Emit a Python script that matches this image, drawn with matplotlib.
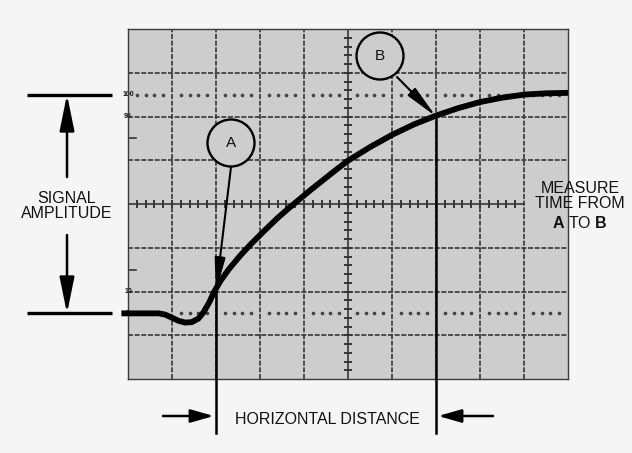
import numpy as np
import matplotlib
matplotlib.use("Agg")
import matplotlib.pyplot as plt
from matplotlib.patches import Ellipse, FancyArrowPatch

plt.rcParams['font.family'] = ['Liberation Sans', 'DejaVu Sans']
plt.rcParams['mathtext.fontset'] = 'custom'
plt.rcParams['mathtext.rm'] = 'Liberation Sans'
plt.rcParams['mathtext.bf'] = 'Liberation Sans:bold'

# ---- data (graticule divisions) ----
curve_x = [-0.15, 0.0, 0.5, 0.7, 0.85, 1.0, 1.15, 1.3, 1.45, 1.6, 1.72, 1.85, 1.95, 2.1, 2.3,
           2.55, 2.8, 3.1, 3.4, 3.65, 3.9, 4.15, 4.4, 4.7, 5.0, 5.5, 6.0, 6.5, 7.0, 7.5,
           8.0, 8.5, 9.0, 9.5, 10.0]
curve_y = [1.5, 1.5, 1.5, 1.5, 1.47, 1.4, 1.33, 1.29, 1.3, 1.38, 1.53, 1.76, 1.98, 2.24, 2.52,
           2.82, 3.09, 3.39, 3.68, 3.9, 4.11, 4.32, 4.52, 4.76, 4.99, 5.3, 5.58, 5.82, 6.02, 6.19,
           6.33, 6.43, 6.50, 6.53, 6.54]
level_labels = ["100", "90", "10", "0"]
level_values = [6.5, 6.0, 2.0, 1.5]
point_A = (2.0, 2.0)
point_B = (7.0, 6.0)
n_xdiv, n_ydiv = 10, 8

W, H = 632, 453
fig = plt.figure(figsize=(W / 100, H / 100), dpi=100, facecolor='#f5f5f5')
left_px, right_px, top_px, bot_px = 128, 568, 29, 379
ax = fig.add_axes([left_px / W, (H - bot_px) / H, (right_px - left_px) / W, (bot_px - top_px) / H])
ax.set_xlim(0, n_xdiv)
ax.set_ylim(0, n_ydiv)
ax.set_facecolor('#cdcdcd')
ax.set_xticks([]); ax.set_yticks([])
for s in ax.spines.values():
    s.set_color('#3a3a3a'); s.set_linewidth(1.0)

gcol = '#363636'
# grid lines
for i in range(1, n_xdiv):
    if i == 5:
        continue
    ax.plot([i, i], [0, n_ydiv], color=gcol, lw=1.2, ls=(0, (3, 1)), zorder=1)
for j in range(1, n_ydiv):
    if j == 4:
        continue
    ax.plot([0, n_xdiv], [j, j], color=gcol, lw=1.2, ls=(0, (3, 1)), zorder=1)
# centre lines with minor ticks
ax.plot([5, 5], [0, n_ydiv], color=gcol, lw=1.2, zorder=1)
ax.plot([0, 9], [4, 4], color=gcol, lw=1.2, zorder=1)
sub = np.arange(0.2, n_ydiv, 0.2)
ax.plot(np.full_like(sub, 5), sub, ls='none', marker='_', ms=6, mew=1.4, color=gcol, zorder=1)
subx = np.arange(0.2, 9.0, 0.2)
ax.plot(subx, np.full_like(subx, 4), ls='none', marker='|', ms=6, mew=1.4, color=gcol, zorder=1)

# dotted 0% and 100% lines
dots = np.array([c + f for c in range(n_xdiv) for f in (0.2, 0.4, 0.6, 0.8)])
for lv in (level_values[0], level_values[3]):
    ax.plot(dots, np.full_like(dots, lv), ls='none', marker='o', ms=1.6, color='#444444', zorder=1)

# left-edge level marks
for lab, lv in zip(level_labels, level_values):
    ax.text(0.0, lv, lab, fontsize=5, fontweight='bold', ha='center', va='center', color='#111',
            clip_on=False, zorder=2)
for lv in (5.5, 2.5):
    ax.plot([0, 0.18], [lv, lv], color=gcol, lw=1.2, zorder=1)

# waveform
ax.plot(curve_x, curve_y, color='black', lw=4.2, solid_capstyle='butt', solid_joinstyle='round',
        clip_on=False, zorder=4)

def px2d(px, py):
    return ((px - left_px) / 44.0, (bot_px - py) / 43.75)

# cursor lines
yb = px2d(0, 433)[1]
for (cx, cy) in (point_A, point_B):
    ax.plot([cx, cx], [cy, yb], color='black', lw=1.8, clip_on=False, zorder=3)

def arrow(p0, p1, hl=20, hw=4, lw=1.8):
    a = FancyArrowPatch(p0, p1, arrowstyle=f'-|>,head_length={hl},head_width={hw}',
                        mutation_scale=1, color='black', lw=lw, clip_on=False,
                        shrinkA=0, shrinkB=0, zorder=5)
    ax.add_patch(a)

# circles A and B
for (label, cpx, cpy, tip, tail) in (("A", 231, 143, point_A, (231, 167)),
                                     ("B", 380, 56, point_B, (397, 77))):
    c = px2d(cpx, cpy)
    e = Ellipse(c, 2 * 23.5 / 44.0, 2 * 23.5 / 43.75, facecolor='#cdcdcd', edgecolor='black',
                lw=1.7, zorder=6, clip_on=False)
    ax.add_patch(e)
    ax.text(c[0], c[1], label, fontsize=11, ha='center', va='center', zorder=7, color='#111')
    arrow(px2d(*tail), tip, hl=20, hw=3.2, lw=1.5)

# signal amplitude bracket
xl0, xl1 = px2d(27, 0)[0], px2d(112, 0)[0]
for lv in (level_values[0], level_values[3]):
    ax.plot([xl0, xl1], [lv, lv], color='black', lw=2.4, clip_on=False, solid_capstyle='butt')
xa = px2d(67, 0)[0]
arrow((xa, px2d(0, 177)[1]), (xa, level_values[0]), hl=22, hw=4.5)
arrow((xa, px2d(0, 235)[1]), (xa, level_values[3]), hl=22, hw=4.5)
ax.text(xa, px2d(0, 206)[1], "SIGNAL\nAMPLITUDE", fontsize=11.5, ha='center', va='center',
        linespacing=1.0, color='#111')

# horizontal distance
yh = px2d(0, 416)[1]
arrow((px2d(163, 0)[0], yh), (point_A[0] - 0.05, yh), hl=14, hw=4)
arrow((px2d(493, 0)[0], yh), (point_B[0] + 0.05, yh), hl=14, hw=4)
ax.text(px2d(327, 0)[0], px2d(0, 420)[1], "HORIZONTAL DISTANCE", fontsize=11.5,
        ha='center', va='center', color='#111')

# measure text
mx = px2d(580, 0)[0]
ax.text(mx, px2d(0, 196)[1], "MEASURE\nTIME FROM", fontsize=11.5, ha='center', va='center',
        linespacing=1.05, color='#111')
ax.text(mx, px2d(0, 223)[1], r"$\mathbf{A}$ TO $\mathbf{B}$", fontsize=11.5, ha='center',
        va='center', color='#111')

fig.savefig('out.png', dpi=100, facecolor=fig.get_facecolor())
